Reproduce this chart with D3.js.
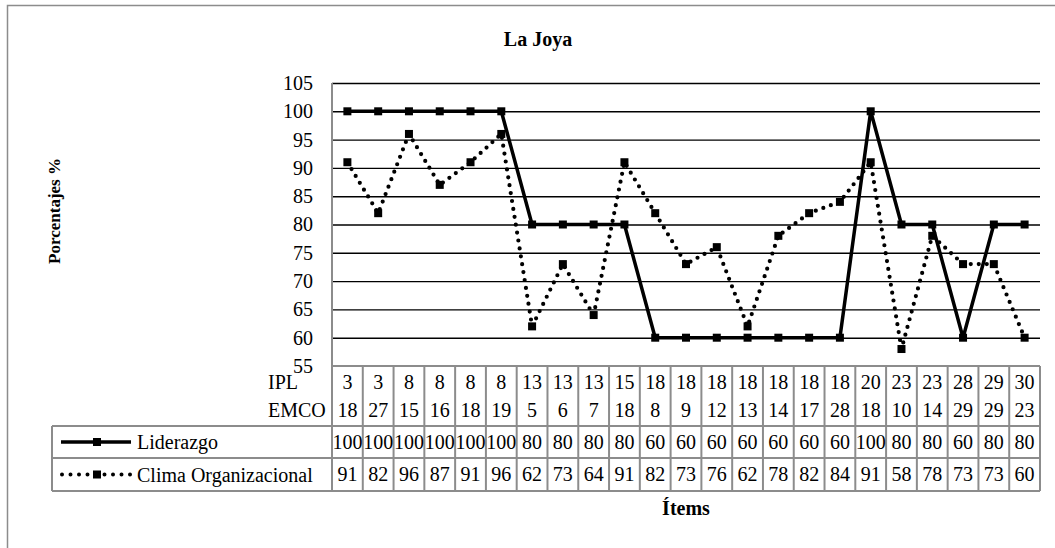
<!DOCTYPE html>
<html>
<head>
<meta charset="utf-8">
<script src="https://cdn.jsdelivr.net/npm/d3@7"></script>
<style>
  html, body { margin: 0; padding: 0; background: #fff; }
  svg, svg text { font-family: 'Liberation Serif', 'Times New Roman', Times, serif !important; }
</style>
</head>
<body>
<svg id="chart" width="1055" height="548" font-family="Liberation Serif"></svg>
<script>
// Item pairs: IPL item and EMCO item for each point
const ipl  = [3, 3, 8, 8, 8, 8, 13, 13, 13, 15, 18, 18, 18, 18, 18, 18, 18, 20, 23, 23, 28, 29, 30];
const emco = [18, 27, 15, 16, 18, 19, 5, 6, 7, 18, 8, 9, 12, 13, 14, 17, 28, 18, 10, 14, 29, 29, 23];

// Series values (percent)
const liderazgo = [100, 100, 100, 100, 100, 100, 80, 80, 80, 80, 60, 60, 60, 60, 60, 60, 60, 100, 80, 80, 60, 80, 80];
const clima     = [91, 82, 96, 87, 91, 96, 62, 73, 64, 91, 82, 73, 76, 62, 78, 82, 84, 91, 58, 78, 73, 73, 60];

const seriesNames = ["Liderazgo", "Clima Organizacional"];
const yTicks = [55, 60, 65, 70, 75, 80, 85, 90, 95, 100, 105];

const FONT = "Liberation Serif";
const svg = d3.select("#chart");
const grey = "#8c8c8c";

// Plot geometry
const plot = { left: 332, right: 1040, top: 83, bottom: 366 };
const table = { headBottom: 426, row1Bottom: 458, row2Bottom: 491, legendLeft: 52 };

const idx = d3.range(ipl.length);
const x = d3.scaleBand().domain(idx).range([plot.left, plot.right]).padding(0);
const y = d3.scaleLinear().domain([55, 105]).range([plot.bottom, plot.top]);
const cx = i => x(i) + x.bandwidth() / 2;

// Outer chart frame
svg.append("rect")
  .attr("x", 7.5).attr("y", 5.5)
  .attr("width", 1080).attr("height", 600)
  .attr("fill", "none").attr("stroke", grey).attr("stroke-width", 1.5);

// Title
svg.append("text")
  .attr("x", 538).attr("y", 46)
  .attr("text-anchor", "middle").attr("font-family", FONT)
  .attr("font-weight", "bold").attr("font-size", 20)
  .text("La Joya");

// Horizontal gridlines (60..105)
const grid = svg.append("g")
  .attr("transform", `translate(${plot.left},0)`)
  .call(d3.axisLeft(y).tickValues(yTicks.filter(v => v > 55))
    .tickSize(-(plot.right - plot.left)).tickFormat(""));
grid.select(".domain").remove();
grid.selectAll(".tick line").attr("stroke", "#000").attr("stroke-width", 1.4);

// Y-axis labels
const yAxis = svg.append("g")
  .attr("transform", `translate(${plot.left - 19},0)`)
  .call(d3.axisLeft(y).tickValues(yTicks).tickSize(0).tickPadding(0));
yAxis.attr("font-family", FONT).attr("font-size", 20);
yAxis.select(".domain").remove();
yAxis.selectAll("text").attr("fill", "#000");

// Y-axis title
svg.append("text")
  .attr("transform", "translate(60,211) rotate(-90)")
  .attr("text-anchor", "middle").attr("font-family", FONT)
  .attr("font-weight", "bold").attr("font-size", 17)
  .text("Porcentajes %");

// Data table grid
const tg = svg.append("g").attr("stroke", grey).attr("stroke-width", 2).attr("fill", "none");
d3.range(ipl.length + 1).forEach(k => {
  const xx = k < ipl.length ? x(k) : plot.right;
  tg.append("line").attr("x1", xx).attr("x2", xx)
    .attr("y1", k === 0 ? plot.top : plot.bottom).attr("y2", table.row2Bottom);
});
tg.append("line").attr("x1", plot.left).attr("x2", plot.right).attr("y1", plot.bottom).attr("y2", plot.bottom);
[table.headBottom, table.row1Bottom, table.row2Bottom].forEach(yy => {
  tg.append("line").attr("x1", table.legendLeft).attr("x2", plot.right).attr("y1", yy).attr("y2", yy);
});
tg.append("line").attr("x1", table.legendLeft).attr("x2", table.legendLeft)
  .attr("y1", table.headBottom).attr("y2", table.row2Bottom);

// Category labels and table values
const txt = svg.append("g").attr("font-family", FONT).attr("font-size", 20).attr("fill", "#000");
txt.append("text").attr("x", 268).attr("y", 389).text("IPL");
txt.append("text").attr("x", 268).attr("y", 417).text("EMCO");
txt.selectAll(".ipl").data(ipl).join("text").attr("class", "ipl")
  .attr("x", (d, i) => cx(i)).attr("y", 389).attr("text-anchor", "middle").text(d => d);
txt.selectAll(".emco").data(emco).join("text").attr("class", "emco")
  .attr("x", (d, i) => cx(i)).attr("y", 417).attr("text-anchor", "middle").text(d => d);
txt.selectAll(".lid").data(liderazgo).join("text").attr("class", "lid")
  .attr("x", (d, i) => cx(i)).attr("y", 449).attr("text-anchor", "middle").text(d => d);
txt.selectAll(".cli").data(clima).join("text").attr("class", "cli")
  .attr("x", (d, i) => cx(i)).attr("y", 481).attr("text-anchor", "middle").text(d => d);

// Legend keys inside the table
const keyY1 = (table.headBottom + table.row1Bottom) / 2;
const keyY2 = (table.row1Bottom + table.row2Bottom) / 2;
svg.append("line").attr("x1", 61).attr("x2", 131).attr("y1", keyY1).attr("y2", keyY1)
  .attr("stroke", "#000").attr("stroke-width", 3.5);
svg.append("rect").attr("x", 93).attr("y", keyY1 - 4).attr("width", 8).attr("height", 8).attr("fill", "#000");
svg.append("line").attr("x1", 62).attr("x2", 131).attr("y1", keyY2).attr("y2", keyY2)
  .attr("stroke", "#000").attr("stroke-width", 4).attr("stroke-linecap", "round")
  .attr("stroke-dasharray", "0,8.5");
svg.append("rect").attr("x", 93).attr("y", keyY2 - 4).attr("width", 8).attr("height", 8).attr("fill", "#000");
txt.append("text").attr("x", 137).attr("y", keyY1 + 7).text(seriesNames[0]);
txt.append("text").attr("x", 137).attr("y", keyY2 + 7).text(seriesNames[1]);

// Series lines
const line = d3.line().x((d, i) => cx(i)).y(d => y(d));
svg.append("path").datum(liderazgo).attr("d", line)
  .attr("fill", "none").attr("stroke", "#000").attr("stroke-width", 3.5).attr("stroke-linejoin", "round");
svg.append("g").selectAll("rect").data(liderazgo).join("rect")
  .attr("x", (d, i) => cx(i) - 4).attr("y", d => y(d) - 4)
  .attr("width", 8).attr("height", 8).attr("fill", "#000");

svg.append("path").datum(clima).attr("d", line)
  .attr("fill", "none").attr("stroke", "#000").attr("stroke-width", 4.2)
  .attr("stroke-linecap", "round").attr("stroke-dasharray", "0,8");
svg.append("g").selectAll("rect").data(clima).join("rect")
  .attr("x", (d, i) => cx(i) - 4).attr("y", d => y(d) - 4)
  .attr("width", 8).attr("height", 8).attr("fill", "#000");

// X-axis title
svg.append("text")
  .attr("x", 686).attr("y", 515)
  .attr("text-anchor", "middle").attr("font-family", FONT)
  .attr("font-weight", "bold").attr("font-size", 20)
  .text("Ítems");
</script>
</body>
</html>
